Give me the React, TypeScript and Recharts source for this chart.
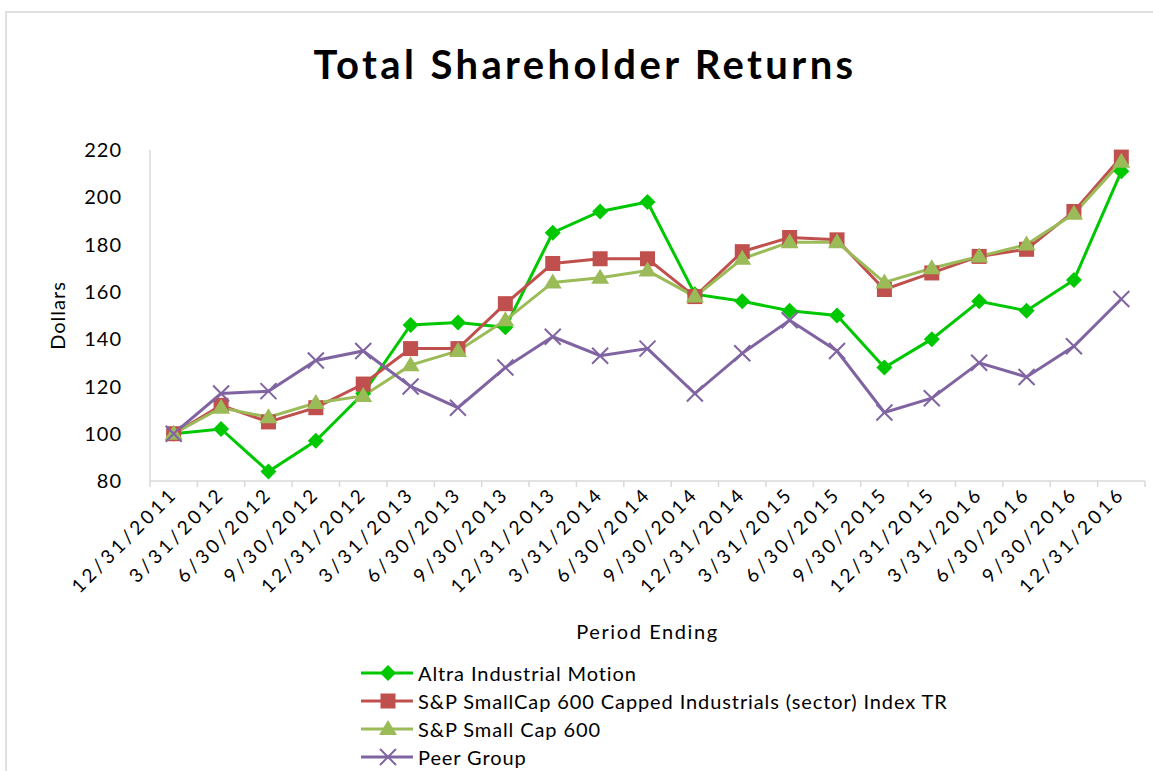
import { Legend, Line, LineChart, XAxis, YAxis } from "recharts";

// quarterly TSR, indexed to $100 at 12/31/2011
const periods = [
  "12/31/2011", "3/31/2012", "6/30/2012", "9/30/2012", "12/31/2012",
  "3/31/2013", "6/30/2013", "9/30/2013", "12/31/2013", "3/31/2014",
  "6/30/2014", "9/30/2014", "12/31/2014", "3/31/2015", "6/30/2015",
  "9/30/2015", "12/31/2015", "3/31/2016", "6/30/2016", "9/30/2016",
  "12/31/2016",
];
const altra = [100, 102, 84, 97, 117, 146, 147, 145, 185, 194, 198, 159, 156, 152, 150, 128, 140, 156, 152, 165, 211];
const spIndustrials = [100, 112, 105, 111, 121, 136, 136, 155, 172, 174, 174, 158, 177, 183, 182, 161, 168, 175, 178, 194, 217];
const spSmallCap = [100, 111, 107, 113, 116, 129, 135, 148, 164, 166, 169, 158, 174, 181, 181, 164, 170, 175, 180, 193, 215];
const peerGroup = [100, 117, 118, 131, 135, 120, 111, 128, 141, 133, 136, 117, 134, 148, 135, 109, 115, 130, 124, 137, 157];
const yTicks = [80, 100, 120, 140, 160, 180, 200, 220];

const data = periods.map((period, i) => ({
  period,
  altra: altra[i],
  spIndustrials: spIndustrials[i],
  spSmallCap: spSmallCap[i],
  peerGroup: peerGroup[i],
}));

const FONT = "Lato, 'Open Sans', sans-serif";
const AXIS = "#d9d9d9";
const PLOT_LEFT = 150;
const PLOT_RIGHT = 1145;
const BAND = (PLOT_RIGHT - PLOT_LEFT) / periods.length;

type Shape = "diamond" | "square" | "triangle" | "cross";

const series: { key: string; name: string; color: string; shape: Shape }[] = [
  { key: "altra", name: "Altra Industrial Motion", color: "#00c800", shape: "diamond" },
  { key: "spIndustrials", name: "S&P SmallCap 600 Capped Industrials (sector) Index TR", color: "#c0504d", shape: "square" },
  { key: "spSmallCap", name: "S&P Small Cap 600", color: "#9bbb59", shape: "triangle" },
  { key: "peerGroup", name: "Peer Group", color: "#8064a2", shape: "cross" },
];

function Marker({ cx, cy, shape, color }: { cx: number; cy: number; shape: Shape; color: string }) {
  if (cx == null || cy == null) return null;
  if (shape === "diamond") {
    const r = 8;
    return <path d={`M${cx},${cy - r}L${cx + r},${cy}L${cx},${cy + r}L${cx - r},${cy}Z`} fill={color} />;
  }
  if (shape === "square") {
    return <rect x={cx - 7.5} y={cy - 7.5} width={15} height={15} fill={color} />;
  }
  if (shape === "triangle") {
    return <path d={`M${cx},${cy - 9}L${cx + 9},${cy + 6}L${cx - 9},${cy + 6}Z`} fill={color} />;
  }
  const r = 8;
  return (
    <path
      d={`M${cx - r},${cy - r}L${cx + r},${cy + r}M${cx - r},${cy + r}L${cx + r},${cy - r}`}
      stroke={color}
      strokeWidth={2}
      fill="none"
    />
  );
}

function PeriodTick(props: any) {
  const { x, y, payload, index } = props;
  const left = x - BAND / 2;
  const tx = x + 5;
  const ty = y + 14;
  return (
    <g>
      <line x1={left} y1={y} x2={left} y2={y + 6} stroke={AXIS} strokeWidth={1.5} />
      {index === periods.length - 1 && (
        <line x1={x + BAND / 2} y1={y} x2={x + BAND / 2} y2={y + 6} stroke={AXIS} strokeWidth={1.5} />
      )}
      <text
        x={tx}
        y={ty}
        transform={`rotate(-45, ${tx}, ${ty})`}
        textAnchor="end"
        fontFamily={FONT}
        fontSize={19}
        letterSpacing={3.5}
        fill="#000"
      >
        {payload.value}
      </text>
    </g>
  );
}

function PeriodLabel(props: any) {
  const { viewBox } = props;
  return (
    <text
      x={viewBox.x + viewBox.width / 2}
      y={639}
      textAnchor="middle"
      fontFamily={FONT}
      fontSize={20}
      letterSpacing={1.6}
      fill="#000"
    >
      Period Ending
    </text>
  );
}

function DollarsLabel(props: any) {
  const { viewBox } = props;
  const x = viewBox.x + 17;
  const y = viewBox.y + viewBox.height / 2;
  return (
    <text
      x={x}
      y={y}
      transform={`rotate(-90, ${x}, ${y})`}
      textAnchor="middle"
      dominantBaseline="central"
      fontFamily={FONT}
      fontSize={20}
      letterSpacing={1}
      fill="#000"
    >
      Dollars
    </text>
  );
}

function LegendContent() {
  return (
    <div style={{ fontFamily: FONT, fontSize: 20, letterSpacing: 0.9, color: "#000" }}>
      {series.map((s) => (
        <div key={s.key} style={{ display: "flex", alignItems: "center", height: 28 }}>
          <svg width={57} height={24} style={{ flex: "none" }}>
            <line x1={0} y1={12} x2={52} y2={12} stroke={s.color} strokeWidth={3} />
            <Marker cx={27} cy={12} shape={s.shape} color={s.color} />
          </svg>
          <span style={{ whiteSpace: "nowrap" }}>{s.name}</span>
        </div>
      ))}
    </div>
  );
}

export default function App() {
  return (
    <div
      style={{
        position: "absolute",
        left: 0,
        top: 0,
        width: 1153,
        height: 771,
        overflow: "hidden",
        background: "#fff",
      }}
    >
      <div
        style={{
          position: "absolute",
          left: 5,
          top: 11,
          width: 1170,
          height: 800,
          border: "2px solid #e0e0e0",
        }}
      />
      <div
        style={{
          position: "absolute",
          left: 0,
          top: 44,
          width: 1170,
          textAlign: "center",
          fontFamily: FONT,
          fontWeight: 700,
          fontSize: 40,
          lineHeight: "40px",
          letterSpacing: 3.4,
          color: "#000",
        }}
      >
        Total Shareholder Returns
      </div>
      <div style={{ position: "absolute", left: 0, top: 0 }}>
        <LineChart width={1153} height={771} data={data} margin={{ top: 150, right: 8, bottom: 0, left: 40 }}>
          <XAxis
            dataKey="period"
            scale="band"
            interval={0}
            height={290}
            tickSize={0}
            tickMargin={0}
            tickLine={false}
            axisLine={{ stroke: AXIS, strokeWidth: 1.5 }}
            tick={<PeriodTick />}
            label={<PeriodLabel />}
          />
          <YAxis
            width={110}
            domain={[80, 220]}
            ticks={yTicks}
            tickLine={false}
            tickSize={0}
            tickMargin={28}
            axisLine={{ stroke: AXIS, strokeWidth: 1.5 }}
            tick={{ fontFamily: FONT, fontSize: 20, letterSpacing: 1, fill: "#000" }}
            label={<DollarsLabel />}
          />
          <Legend
            layout="vertical"
            verticalAlign="middle"
            align="center"
            wrapperStyle={{ left: 361, top: 659, width: 700, height: 112 }}
            content={<LegendContent />}
          />
          {series.map((s) => (
            <Line
              key={s.key}
              dataKey={s.key}
              name={s.name}
              type="linear"
              stroke={s.color}
              strokeWidth={3}
              isAnimationActive={false}
              dot={(p: any) => <Marker key={`${s.key}-${p.index}`} cx={p.cx} cy={p.cy} shape={s.shape} color={s.color} />}
              activeDot={false}
            />
          ))}
        </LineChart>
      </div>
    </div>
  );
}
